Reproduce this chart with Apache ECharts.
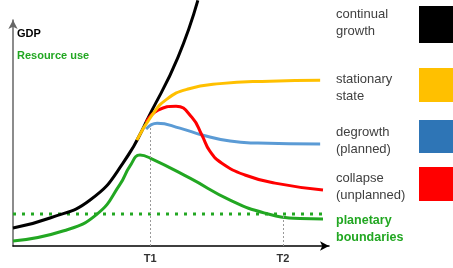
<!DOCTYPE html>
<html>
<head>
<meta charset="utf-8">
<script src="https://cdn.jsdelivr.net/npm/echarts@6/dist/echarts.min.js"></script>
<style>
html, body { margin: 0; padding: 0; background: #fff; }
#chart { width: 453px; height: 268px; }
</style>
</head>
<body>
<div id="chart"></div>
<script>
// time points and planetary boundary level
const T1 = 43.4;
const T2 = 85.4;
const boundary = 13;
const boundaryEnd = 98.7;
const tickNames = ["T1", "T2"];

// curves as [time, level]
const growth = [[0, 7.3], [11.7, 11.4], [24.4, 18.7], [34.8, 33.7], [44.0, 55.3], [52.2, 76.8], [58.5, 100]];
const stationary = [[39.2, 43.1], [44.0, 53.3], [48.7, 59.8], [55.1, 63.8], [65.5, 66.1], [81.3, 67.1], [97.2, 67.5]];
const degrowth = [[42.1, 47.6], [45.6, 50.0], [52.8, 48.0], [60.1, 45.1], [68.7, 42.7], [77.5, 41.9], [97.2, 41.5]];
const collapse = [[42.1, 50.4], [45.9, 55.3], [51.6, 56.9], [56.6, 52.4], [59.8, 45.1], [62.3, 38.6],
    [66.1, 33.7], [73.4, 28.9], [82.9, 25.6], [98.1, 22.8]];
const resourceUse = [[0, 2.0], [15.8, 6.1], [26.6, 13.0], [33.9, 25.2], [37.0, 32.5], [40.2, 37.0], [43.4, 35.8],
    [56.0, 27.6], [68.7, 18.7], [79.7, 13.4], [90.8, 11.2], [98.1, 11.0]];

const legendNames = ["continual\ngrowth", "stationary\nstate", "degrowth\n(planned)", "collapse\n(unplanned)"];
const legendColors = ["#000000", "#ffc000", "#2e75b6", "#ff0000"];

const green = "#22a722";
const font = "Liberation Sans";

let myChart = echarts.init(document.getElementById("chart"));

function curve(data, color) {
    return {
        type: "line",
        data: data,
        smooth: 0.5,
        symbol: "none",
        clip: false,
        lineStyle: { color: color, width: 3 }
    };
}

let growthSeries = curve(growth, "#000");
growthSeries.markLine = {
    silent: true,
    symbol: "none",
    label: { show: false },
    lineStyle: { color: "#999", type: [2, 2], width: 1 },
    data: [
        [{ coord: [T1, 0] }, { coord: [T1, 49] }],
        [{ coord: [T2, 0] }, { coord: [T2, boundary] }]
    ]
};

let boundarySeries = {
    type: "line",
    data: [[0, boundary], [boundaryEnd, boundary]],
    symbol: "none",
    lineStyle: { color: green, width: 3, type: [3, 6] }
};

// legend blocks on the right
let textTops = [5.5, 70.5, 123.5, 169.5];
let boxes = [[6, 37], [68, 34], [120, 33], [167, 34]];
let graphic = [];
legendNames.forEach((name, i) => {
    graphic.push({
        type: "text", left: 336, top: textTops[i],
        style: { text: name, fill: "#404040", fontSize: 13, fontFamily: font, lineHeight: 17 }
    });
    graphic.push({
        type: "rect", shape: { x: 419, y: boxes[i][0], width: 34, height: boxes[i][1] },
        style: { fill: legendColors[i] }
    });
});
graphic.push({
    type: "text", left: 336, top: 212.5,
    style: { text: "planetary\nboundaries", fill: green, fontSize: 12.5, fontWeight: "bold", fontFamily: font, lineHeight: 17 }
});
graphic.push({
    type: "text", left: 17, top: 27.5,
    style: { text: "GDP", fill: "#000", fontSize: 11, fontWeight: "bold", fontFamily: font, lineHeight: 13 }
});
graphic.push({
    type: "text", left: 17, top: 49.5,
    style: { text: "Resource use", fill: green, fontSize: 11, fontWeight: "bold", fontFamily: font, lineHeight: 13 }
});

let option = {
    backgroundColor: "#fff",
    animation: false,
    grid: { left: 13, right: 124, top: 20, bottom: 22 },
    xAxis: {
        type: "value",
        min: 0,
        max: 100,
        splitLine: { show: false },
        axisLine: { lineStyle: { color: "#000", width: 1.5 }, symbol: ["none", "arrow"], symbolSize: [7, 9] },
        axisTick: { show: false },
        axisLabel: {
            customValues: [T1, T2],
            formatter: v => (v === T1 ? tickNames[0] : tickNames[1]),
            color: "#333",
            fontWeight: "bold",
            fontSize: 11,
            fontFamily: font,
            margin: 7
        }
    },
    yAxis: {
        type: "value",
        min: 0,
        max: 92,
        splitLine: { show: false },
        axisLine: { show: true, lineStyle: { color: "#666", width: 1.5 }, symbol: ["none", "arrow"], symbolSize: [7, 9] },
        axisTick: { show: false },
        axisLabel: { show: false }
    },
    graphic: graphic,
    series: [
        boundarySeries,
        curve(resourceUse, green),
        growthSeries,
        curve(degrowth, "#5b9bd5"),
        curve(collapse, "#ff0000"),
        curve(stationary, "#ffc000")
    ]
};

myChart.setOption(option);
</script>
</body>
</html>
